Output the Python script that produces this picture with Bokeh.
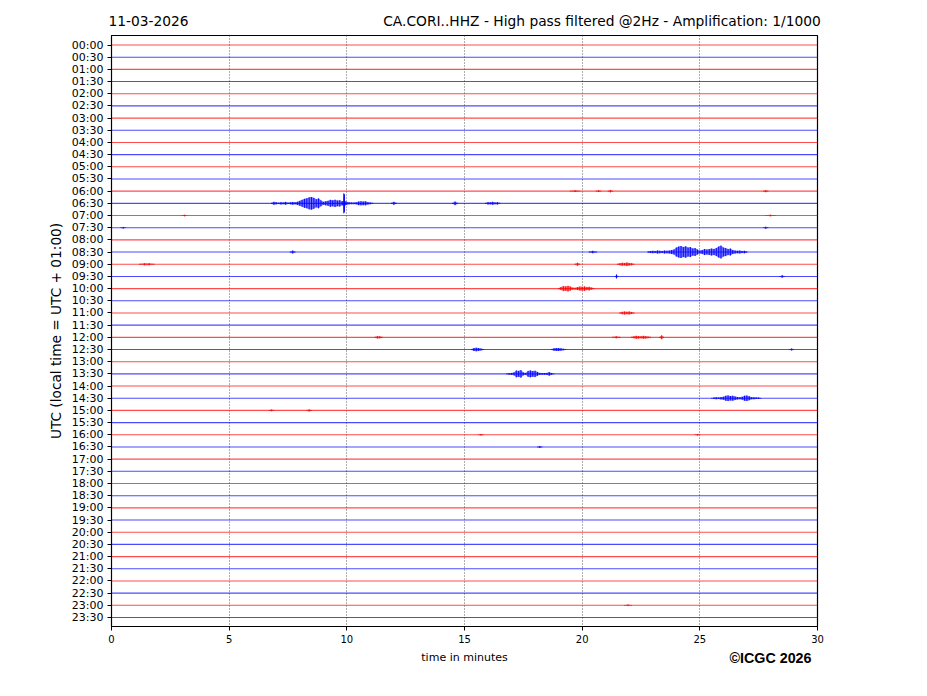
from bokeh.plotting import figure
from bokeh.models import Range1d, FixedTicker, Title, LinearAxis
from bokeh.embed import file_html
from bokeh.resources import INLINE

DATE_TEXT = "11-03-2026"
TITLE_TEXT = "CA.CORI..HHZ - High pass filtered @2Hz - Amplification: 1/1000"
X_LABEL = "time in minutes"
Y_LABEL = "UTC (local time = UTC + 01:00)"
CREDIT = "\u00a9ICGC 2026"

X_TICKS = [0, 5, 10, 15, 20, 25, 30]
ROW_LABELS = [
    "00:00", "00:30", "01:00", "01:30", "02:00", "02:30", "03:00", "03:30",
    "04:00", "04:30", "05:00", "05:30", "06:00", "06:30", "07:00", "07:30",
    "08:00", "08:30", "09:00", "09:30", "10:00", "10:30", "11:00", "11:30",
    "12:00", "12:30", "13:00", "13:30", "14:00", "14:30", "15:00", "15:30",
    "16:00", "16:30", "17:00", "17:30", "18:00", "18:30", "19:00", "19:30",
    "20:00", "20:30", "21:00", "21:30", "22:00", "22:30", "23:00", "23:30",
]

# bursts of signal: row index, times (minutes), half amplitude (counts)
EVENT_ROW = [13, 13, 13, 13, 17, 17, 17, 18, 18, 18, 19, 19, 20, 22, 24, 24, 24, 24,
             25, 25, 25, 27, 29, 30, 30, 12, 12, 12, 12, 14, 14, 15, 15, 33, 32, 32, 46]
EVENT_T = [
    [6.8, 6.9, 7.0, 7.1, 7.2, 7.3, 7.4, 7.5, 7.6, 7.7, 7.8, 7.9, 8.0, 8.1, 8.2, 8.3, 8.4, 8.5,
     8.6, 8.7, 8.8, 8.9, 9.0, 9.1, 9.2, 9.3, 9.4, 9.5, 9.6, 9.7, 9.8, 9.84, 9.87, 9.9, 9.93,
     10.0, 10.1, 10.2, 10.3, 10.4, 10.5, 10.6, 10.7, 10.8, 10.9, 11.0, 11.1],
    [11.9, 12.0, 12.1],
    [14.5, 14.6, 14.7],
    [15.9, 16.0, 16.1, 16.2, 16.3, 16.4, 16.5],
    [22.8, 22.9, 23.0, 23.1, 23.2, 23.3, 23.4, 23.5, 23.6, 23.7, 23.8, 23.9, 24.0, 24.1, 24.2,
     24.3, 24.4, 24.5, 24.6, 24.7, 24.8, 24.9, 25.0, 25.1, 25.2, 25.3, 25.4, 25.5, 25.6, 25.7,
     25.8, 25.9, 26.0, 26.1, 26.2, 26.3, 26.4, 26.5, 26.6, 26.7, 26.8, 26.9, 27.0],
    [7.6, 7.7, 7.8],
    [20.3, 20.45, 20.6],
    [21.5, 21.6, 21.7, 21.8, 21.9, 22.0, 22.1, 22.2],
    [1.2, 1.4, 1.6, 1.8],
    [19.7, 19.8, 19.9],
    [21.4, 21.46, 21.52],
    [28.4, 28.5, 28.6],
    [19.0, 19.1, 19.2, 19.3, 19.4, 19.5, 19.6, 19.7, 19.8, 19.9, 20.0, 20.1, 20.2, 20.3, 20.4, 20.5],
    [21.6, 21.7, 21.8, 21.9, 22.0, 22.1, 22.2],
    [11.2, 11.3, 11.4, 11.5],
    [21.3, 21.45, 21.6],
    [22.1, 22.2, 22.3, 22.4, 22.5, 22.6, 22.7, 22.8, 22.9],
    [23.3, 23.38, 23.46],
    [15.3, 15.4, 15.5, 15.6, 15.7, 15.8],
    [18.7, 18.8, 18.9, 19.0, 19.1, 19.2, 19.3],
    [28.8, 28.9, 29.0],
    [16.8, 16.9, 17.0, 17.1, 17.2, 17.3, 17.4, 17.5, 17.6, 17.7, 17.8, 17.9, 18.0, 18.1, 18.2,
     18.3, 18.4, 18.5, 18.6, 18.7, 18.8],
    [25.5, 25.6, 25.7, 25.8, 25.9, 26.0, 26.1, 26.2, 26.3, 26.4, 26.5, 26.6, 26.7, 26.8, 26.9,
     27.0, 27.1, 27.2, 27.3, 27.4, 27.5, 27.6],
    [6.7, 6.8, 6.9],
    [8.3, 8.4, 8.5],
    [19.5, 19.7, 19.9],
    [20.6, 20.7, 20.8],
    [21.1, 21.2, 21.3],
    [27.7, 27.8, 27.9],
    [3.0, 3.1, 3.2],
    [27.8, 28.0, 28.2],
    [27.7, 27.8, 27.9],
    [0.4, 0.5, 0.6],
    [18.1, 18.2, 18.3],
    [15.6, 15.7, 15.8],
    [24.8, 24.9, 25.0],
    [21.8, 21.95, 22.1],
]
EVENT_AMP = [
    [0.5, 1.5, 1.0, 0.6, 1.2, 0.8, 1.5, 0.7, 1.0, 1.4, 1.0, 1.6, 2.5, 3.5, 4.5, 5.0, 6.0, 6.3,
     5.5, 4.0, 5.0, 3.0, 1.5, 2.0, 2.5, 3.5, 3.0, 3.7, 2.8, 3.2, 2.0, 2.0, 10.0, 9.0, 2.0,
     1.5, 1.0, 0.8, 0.8, 1.0, 1.8, 2.0, 1.8, 2.0, 1.2, 0.8, 0.5],
    [0.5, 1.5, 0.5],
    [0.5, 1.8, 0.5],
    [0.5, 1.2, 1.0, 1.5, 0.8, 1.2, 0.5],
    [0.8, 1.0, 1.2, 1.0, 1.5, 1.2, 1.0, 1.5, 1.2, 1.5, 2.0, 2.5, 4.5, 5.5, 6.0, 5.0, 5.8, 4.5,
     5.0, 3.5, 4.0, 2.5, 1.5, 2.0, 3.0, 2.5, 3.0, 3.5, 3.0, 4.0, 5.5, 6.5, 4.5, 4.0, 3.0, 3.5,
     2.0, 1.5, 1.2, 1.5, 1.0, 1.2, 0.6],
    [0.5, 1.5, 0.5],
    [0.5, 1.2, 0.5],
    [0.5, 1.0, 1.5, 1.2, 1.8, 1.2, 1.0, 0.5],
    [0.5, 1.0, 1.0, 0.5],
    [0.5, 1.5, 0.5],
    [0.3, 2.0, 0.3],
    [0.3, 1.2, 0.3],
    [0.5, 1.5, 2.5, 2.2, 2.8, 2.0, 1.0, 0.8, 1.5, 2.0, 1.8, 2.2, 1.5, 1.8, 1.0, 0.5],
    [0.5, 1.2, 1.5, 1.2, 1.5, 1.0, 0.5],
    [0.5, 1.2, 1.0, 0.5],
    [0.5, 1.0, 0.5],
    [0.5, 1.0, 1.5, 1.2, 1.0, 1.5, 1.2, 0.8, 0.5],
    [0.5, 2.0, 0.5],
    [0.5, 1.5, 1.8, 1.5, 1.0, 0.5],
    [0.5, 1.2, 1.5, 1.5, 1.2, 0.8, 0.5],
    [0.3, 1.0, 0.3],
    [0.5, 0.8, 1.0, 1.5, 3.5, 3.0, 3.8, 1.5, 1.0, 3.0, 3.5, 2.8, 3.2, 2.0, 1.0, 0.8, 0.8, 1.0,
     1.8, 0.8, 0.3],
    [0.3, 0.8, 1.0, 0.8, 1.2, 1.5, 2.5, 2.8, 2.2, 2.5, 1.8, 1.2, 1.0, 1.5, 2.5, 2.8, 2.0, 1.0,
     1.0, 0.8, 0.8, 0.3],
    [0.3, 0.8, 0.3],
    [0.3, 1.0, 0.3],
    [0.3, 0.8, 0.3],
    [0.3, 0.8, 0.3],
    [0.3, 1.2, 0.3],
    [0.3, 1.0, 0.3],
    [0.3, 0.8, 0.3],
    [0.3, 0.8, 0.3],
    [0.3, 1.0, 0.3],
    [0.3, 0.8, 0.3],
    [0.3, 1.0, 0.3],
    [0.3, 0.8, 0.3],
    [0.3, 0.8, 0.3],
    [0.3, 0.8, 0.3],
]

GAIN = 1.0 / 12.2  # counts -> row spacing
FONT = "DejaVu Sans"
N = len(ROW_LABELS)

W, H = 920, 680
FL, FR, FT, FB = 111, 817, 35, 626  # frame edges on the canvas
p = figure(width=W, height=H, output_backend="svg", toolbar_location=None,
           x_range=Range1d(0, 30), y_range=Range1d(N - 1 + 0.74, -0.78),
           min_border_left=FL, min_border_right=W - FR, min_border_top=FT,
           min_border_bottom=H - FB, background_fill_color="white",
           border_fill_color="white")
p.outline_line_color = "black"
p.outline_line_width = 1.2
p.outline_line_alpha = 1.0

row_color = ["red" if i % 2 == 0 else "blue" for i in range(N)]
p.multi_line(xs=[[X_TICKS[0], X_TICKS[-1]] for _ in range(N)],
             ys=[[i, i] for i in range(N)], line_color=row_color,
             line_width=1.1, line_alpha=0.7)

for row, ts, amps in zip(EVENT_ROW, EVENT_T, EVENT_AMP):
    c = "red" if row % 2 == 0 else "blue"
    lo = [row - a * GAIN for a in amps]
    hi = [row + a * GAIN for a in amps]
    p.varea(x=ts, y1=lo, y2=hi, fill_color=c, fill_alpha=0.55)
    p.segment(x0=ts, y0=lo, x1=ts, y1=hi, line_color=c, line_width=1, line_alpha=0.9)

# axes
p.xaxis.ticker = FixedTicker(ticks=X_TICKS)
p.yaxis.ticker = FixedTicker(ticks=list(range(N)))
p.yaxis.major_label_overrides = {i: lab for i, lab in enumerate(ROW_LABELS)}
for ax in (p.xaxis[0], p.yaxis[0]):
    ax.major_tick_out = 4
    ax.major_tick_in = 0
    ax.minor_tick_line_color = None
    ax.axis_line_color = "black"
    ax.major_tick_line_color = "black"
    ax.major_label_text_font = FONT
    ax.major_label_text_color = "black"
    ax.axis_label_text_font = FONT
    ax.axis_label_text_font_style = "normal"
    ax.axis_label_text_color = "black"
p.xaxis.major_label_text_font_size = "10px"
p.yaxis.major_label_text_font_size = "11px"
p.xaxis.axis_label = X_LABEL
p.xaxis.axis_label_text_font_size = "11px"
p.yaxis.axis_label = Y_LABEL
p.yaxis.axis_label_text_font_size = "13.7px"
p.xaxis.major_label_standoff = 4
p.yaxis.major_label_standoff = 4

p.ygrid.grid_line_color = None
p.xgrid.grid_line_color = "#333333"
p.xgrid.grid_line_dash = "1 2"
p.xgrid.grid_line_width = 0.8

# header line: date on the left, station title on the right (label-only axis above)
HEAD_POS = [(148 - FL) / ((FR - FL) / 30), (601.5 - FL) / ((FR - FL) / 30)]
head = LinearAxis(ticker=FixedTicker(ticks=HEAD_POS),
                  major_label_overrides={HEAD_POS[0]: DATE_TEXT, HEAD_POS[1]: TITLE_TEXT},
                  axis_line_color=None, major_tick_line_color=None,
                  minor_tick_line_color=None, major_tick_out=0, major_tick_in=0,
                  major_label_standoff=7, major_label_text_font=FONT,
                  major_label_text_font_size="13.8px", major_label_text_color="black")
p.add_layout(head, "above")

# credit bottom right
p.add_layout(Title(text=CREDIT, align="right", vertical_align="top",
                   text_font="Liberation Sans", text_font_size="14.3px",
                   text_font_style="bold", text_color="black",
                   standoff=-34, offset=6), "below")

open("out.html", "w").write(file_html(p, INLINE))
